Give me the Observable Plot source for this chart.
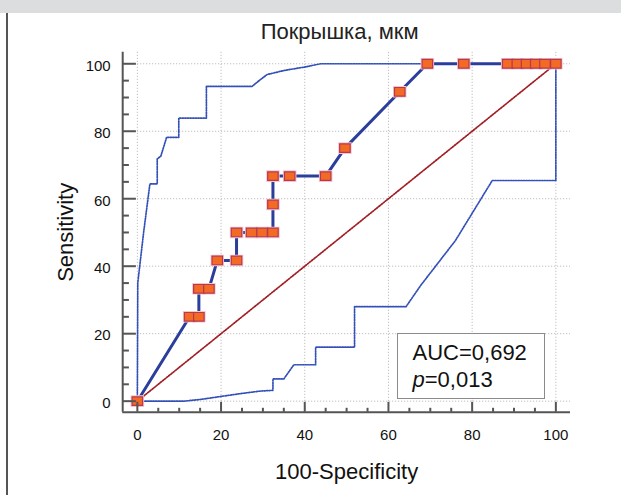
<!DOCTYPE html>
<html>
<head>
<meta charset="utf-8">
<script src="https://cdn.jsdelivr.net/npm/d3@7"></script>
<script src="https://cdn.jsdelivr.net/npm/@observablehq/plot@0.6"></script>
<style>
html,body{margin:0;padding:0;background:#fff;overflow:hidden;}
#wrap{position:relative;width:621px;height:495px;overflow:hidden;font-family:"Liberation Sans",Arial,Helvetica,sans-serif;}
#header{position:absolute;left:0;top:0;width:621px;height:13px;background:#dcdddf;}
#border{position:absolute;left:6px;top:13px;width:1.6px;height:482px;background:#555;}
#chart{position:absolute;left:0;top:0;}
#auc{position:absolute;left:397px;top:333px;width:148px;height:66px;box-sizing:border-box;border:1.5px solid #8a8a8a;background:#fff;
  padding:5px 0 0 14.5px;font-size:22px;line-height:27px;color:#111;}
#auc i{font-style:italic;}
</style>
</head>
<body>
<div id="wrap">
  <div id="header"></div>
  <div id="border"></div>
  <div id="chart"></div>
  <div id="auc">AUC=0,692<br><i>p</i>=0,013</div>
</div>
<script>
// ---- data ----
const title = "Покрышка, мкм";
const xTitle = "100-Specificity";
const yTitle = "Sensitivity";
const majorTicks = [0, 20, 40, 60, 80, 100];
const minorTicks = [5, 10, 15, 25, 30, 35, 45, 50, 55, 65, 70, 75, 85, 90, 95];

// ROC curve: 100-Specificity, Sensitivity
const rocX = [0, 12.5, 14.7, 14.7, 17.1, 19.1, 23.7, 23.7, 27.3, 29.8, 32.4, 32.4, 32.4, 36.4, 45.0, 49.6, 62.7, 69.3, 78.0, 88.5, 90.8, 93.0, 95.2, 97.4, 100];
const rocY = [0, 25, 25, 33.3, 33.3, 41.7, 41.7, 50, 50, 50, 50, 58.3, 66.7, 66.7, 66.7, 75, 91.7, 100, 100, 100, 100, 100, 100, 100, 100];

// Upper confidence bound
const upX = [0, 0.1, 1.5, 3.0, 4.75, 4.75, 5.6, 7.0, 9.9, 9.9, 16.5, 16.5, 27.4, 29.4, 31.0, 35.0, 39.8, 43.8, 100];
const upY = [0, 35, 50, 64.4, 64.4, 71.8, 72.6, 78.2, 78.2, 83.9, 83.9, 93.3, 93.3, 95.3, 96.8, 98.0, 99.0, 100, 100];

// Lower confidence bound
const loX = [0, 11.1, 15, 20, 25, 29.4, 32.4, 32.4, 35.0, 37.4, 42.6, 42.6, 51.9, 51.9, 64.2, 67.7, 76.0, 84.8, 100, 100];
const loY = [0, 0, 0.5, 1.4, 2.3, 3.0, 3.2, 6.6, 6.6, 10.8, 10.8, 16.0, 16.0, 28.0, 28.0, 34.3, 47.6, 65.4, 65.4, 100];

// Reference diagonal
const diagX = [0, 100];
const diagY = [0, 100];

// ---- build tables ----
const roc = rocX.map((x, i) => ({x, y: rocY[i]}));
const upper = upX.map((x, i) => ({x, y: upY[i]}));
const lower = loX.map((x, i) => ({x, y: loY[i]}));
const diag = diagX.map((x, i) => ({x, y: diagY[i]}));

// ---- layout ----
const W = 621, H = 495;
const mL = 122.2, mR = 51, mT = 51.8, mB = 83.2;
const xDom = [-3.5, 103.5], yDom = [-3.3, 103.4];
const pxX = (W - mL - mR) / (xDom[1] - xDom[0]);
const pxY = (H - mT - mB) / (yDom[1] - yDom[0]);
const axisColor = "#555";

const rectSymbol = {
  draw(ctx) { const w = 10.5, h = 8.6; ctx.rect(-w / 2, -h / 2, w, h); }
};

const font = "'Liberation Sans', Arial, Helvetica, sans-serif";

const chart = Plot.plot({
  width: W, height: H,
  marginLeft: mL, marginRight: mR, marginTop: mT, marginBottom: mB,
  x: {domain: xDom, axis: null},
  y: {domain: yDom, axis: null},
  style: {fontFamily: font, background: "transparent", color: "#111"},
  marks: [
    // grid
    Plot.ruleX(majorTicks, {x: d => d, stroke: "#b0b0b0", strokeWidth: 1, strokeDasharray: "1,2"}),
    Plot.ruleY(majorTicks, {y: d => d, stroke: "#b0b0b0", strokeWidth: 1, strokeDasharray: "1,2"}),
    // diagonal
    Plot.line(diag, {x: "x", y: "y", stroke: "#a01e24", strokeWidth: 1.7, strokeDasharray: "1.3,1.4"}),
    // confidence bounds
    Plot.line(upper, {x: "x", y: "y", stroke: "#3350b8", strokeWidth: 1.7, strokeDasharray: "1.3,1.3"}),
    Plot.line(lower, {x: "x", y: "y", stroke: "#3350b8", strokeWidth: 1.7, strokeDasharray: "1.3,1.3"}),
    // ROC
    Plot.line(roc, {x: "x", y: "y", stroke: "#2c3e9c", strokeWidth: 3}),
    Plot.dot(roc, {x: "x", y: "y", symbol: rectSymbol, r: 5, fill: "none", stroke: "#f3c6cf", strokeWidth: 3}),
    Plot.dot(roc, {x: "x", y: "y", symbol: rectSymbol, r: 5, fill: "#f26a24", stroke: "#b8384c", strokeWidth: 1.2}),
    // axis lines
    Plot.ruleX([xDom[0]], {x: d => d, stroke: axisColor, strokeWidth: 2}),
    Plot.ruleY([yDom[0]], {y: d => d, stroke: axisColor, strokeWidth: 2}),
    // y ticks (inward)
    Plot.ruleY(majorTicks, {y: d => d, x1: xDom[0], x2: xDom[0] + 13.7 / pxX, stroke: axisColor, strokeWidth: 2}),
    Plot.ruleY(minorTicks, {y: d => d, x1: xDom[0], x2: xDom[0] + 6.7 / pxX, stroke: axisColor, strokeWidth: 2}),
    // x ticks (inward)
    Plot.ruleX(majorTicks, {x: d => d, y1: yDom[0], y2: yDom[0] + 10 / pxY, stroke: axisColor, strokeWidth: 2}),
    Plot.ruleX(minorTicks, {x: d => d, y1: yDom[0], y2: yDom[0] + 4 / pxY, stroke: axisColor, strokeWidth: 2}),
    // tick labels
    Plot.text(majorTicks, {x: xDom[0], y: d => d, text: d => String(d), textAnchor: "end", lineAnchor: "middle", dx: -12, dy: 2, fontSize: 15, fill: "#111"}),
    Plot.text(majorTicks, {x: d => d, y: yDom[0], text: d => String(d), textAnchor: "middle", lineAnchor: "middle", dy: 22.4, fontSize: 15, fill: "#111"}),
    // axis titles
    Plot.text([xTitle], {frameAnchor: "bottom", text: d => d, textAnchor: "middle", lineAnchor: "middle", dy: 59.8, fontSize: 22, fill: "#111"}),
    Plot.text([yTitle], {frameAnchor: "left", text: d => d, textAnchor: "middle", lineAnchor: "middle", rotate: -90, dx: -56.4, fontSize: 22, fill: "#111"}),
    // title
    Plot.text([title], {frameAnchor: "top", text: d => d, textAnchor: "middle", lineAnchor: "middle", dy: -20.5, dx: -7, fontSize: 22, fill: "#222"})
  ]
});
document.getElementById("chart").appendChild(chart);
</script>
</body>
</html>
